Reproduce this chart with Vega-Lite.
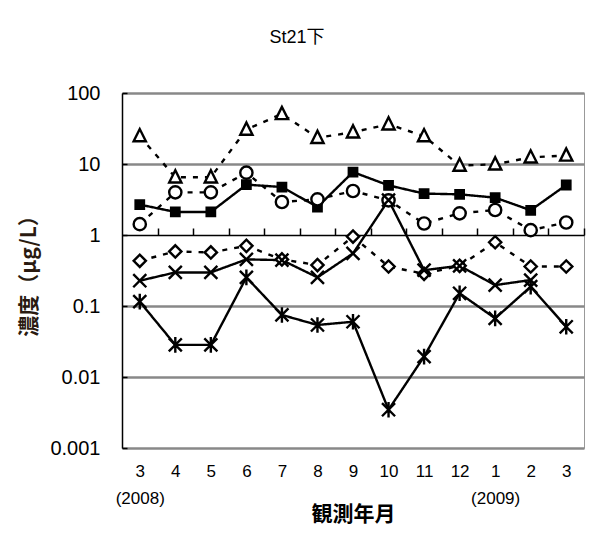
{
  "$schema": "https://vega.github.io/schema/vega-lite/v6.json",
  "width": 462,
  "height": 355,
  "autosize": {"type": "none"},
  "padding": {"left": 122, "top": 93, "right": 5, "bottom": 93},
  "title": {
    "text": "St21下",
    "anchor": "middle",
    "frame": "group",
    "dx": -56,
    "offset": 36,
    "fontSize": 18,
    "fontWeight": "normal",
    "font": "Liberation Sans, Noto Sans CJK JP",
    "color": "black"
  },
  "config": {
    "view": {"stroke": "#999", "strokeWidth": 1},
    "font": "Liberation Sans, Noto Sans CJK JP"
  },
  "data": {
    "values": [
      {"ym": "2008-03", "series": "系列1", "value": 24.7},
      {"ym": "2008-04", "series": "系列1", "value": 6.5},
      {"ym": "2008-05", "series": "系列1", "value": 6.5},
      {"ym": "2008-06", "series": "系列1", "value": 30.6},
      {"ym": "2008-07", "series": "系列1", "value": 50.8},
      {"ym": "2008-08", "series": "系列1", "value": 23.4},
      {"ym": "2008-09", "series": "系列1", "value": 28},
      {"ym": "2008-10", "series": "系列1", "value": 36.3},
      {"ym": "2008-11", "series": "系列1", "value": 24.7},
      {"ym": "2008-12", "series": "系列1", "value": 9.5},
      {"ym": "2009-01", "series": "系列1", "value": 9.9},
      {"ym": "2009-02", "series": "系列1", "value": 12.4},
      {"ym": "2009-03", "series": "系列1", "value": 13.2},

      {"ym": "2008-03", "series": "系列2", "value": 2.68},
      {"ym": "2008-04", "series": "系列2", "value": 2.11},
      {"ym": "2008-05", "series": "系列2", "value": 2.11},
      {"ym": "2008-06", "series": "系列2", "value": 5.12},
      {"ym": "2008-07", "series": "系列2", "value": 4.74},
      {"ym": "2008-08", "series": "系列2", "value": 2.48},
      {"ym": "2008-09", "series": "系列2", "value": 7.7},
      {"ym": "2008-10", "series": "系列2", "value": 5.0},
      {"ym": "2008-11", "series": "系列2", "value": 3.83},
      {"ym": "2008-12", "series": "系列2", "value": 3.74},
      {"ym": "2009-01", "series": "系列2", "value": 3.36},
      {"ym": "2009-02", "series": "系列2", "value": 2.23},
      {"ym": "2009-03", "series": "系列2", "value": 5.06},

      {"ym": "2008-03", "series": "系列3", "value": 1.42},
      {"ym": "2008-04", "series": "系列3", "value": 3.99},
      {"ym": "2008-05", "series": "系列3", "value": 3.99},
      {"ym": "2008-06", "series": "系列3", "value": 7.55},
      {"ym": "2008-07", "series": "系列3", "value": 2.92},
      {"ym": "2008-08", "series": "系列3", "value": 3.18},
      {"ym": "2008-09", "series": "系列3", "value": 4.17},
      {"ym": "2008-10", "series": "系列3", "value": 3.08},
      {"ym": "2008-11", "series": "系列3", "value": 1.45},
      {"ym": "2008-12", "series": "系列3", "value": 2.02},
      {"ym": "2009-01", "series": "系列3", "value": 2.25},
      {"ym": "2009-02", "series": "系列3", "value": 1.17},
      {"ym": "2009-03", "series": "系列3", "value": 1.5},

      {"ym": "2008-03", "series": "系列4", "value": 0.433},
      {"ym": "2008-04", "series": "系列4", "value": 0.587},
      {"ym": "2008-05", "series": "系列4", "value": 0.568},
      {"ym": "2008-06", "series": "系列4", "value": 0.703},
      {"ym": "2008-07", "series": "系列4", "value": 0.453},
      {"ym": "2008-08", "series": "系列4", "value": 0.377},
      {"ym": "2008-09", "series": "系列4", "value": 0.95},
      {"ym": "2008-10", "series": "系列4", "value": 0.36},
      {"ym": "2008-11", "series": "系列4", "value": 0.284},
      {"ym": "2008-12", "series": "系列4", "value": 0.368},
      {"ym": "2009-01", "series": "系列4", "value": 0.79},
      {"ym": "2009-02", "series": "系列4", "value": 0.36},
      {"ym": "2009-03", "series": "系列4", "value": 0.36},

      {"ym": "2008-03", "series": "系列5", "value": 0.227},
      {"ym": "2008-04", "series": "系列5", "value": 0.297},
      {"ym": "2008-05", "series": "系列5", "value": 0.297},
      {"ym": "2008-06", "series": "系列5", "value": 0.453},
      {"ym": "2008-07", "series": "系列5", "value": 0.443},
      {"ym": "2008-08", "series": "系列5", "value": 0.253},
      {"ym": "2008-09", "series": "系列5", "value": 0.55},
      {"ym": "2008-10", "series": "系列5", "value": 3.1},
      {"ym": "2008-11", "series": "系列5", "value": 0.32},
      {"ym": "2008-12", "series": "系列5", "value": 0.368},
      {"ym": "2009-01", "series": "系列5", "value": 0.197},
      {"ym": "2009-02", "series": "系列5", "value": 0.232},

      {"ym": "2008-03", "series": "系列6", "value": 0.115},
      {"ym": "2008-04", "series": "系列6", "value": 0.0283},
      {"ym": "2008-05", "series": "系列6", "value": 0.0283},
      {"ym": "2008-06", "series": "系列6", "value": 0.253},
      {"ym": "2008-07", "series": "系列6", "value": 0.0748},
      {"ym": "2008-08", "series": "系列6", "value": 0.054},
      {"ym": "2008-09", "series": "系列6", "value": 0.06},
      {"ym": "2008-10", "series": "系列6", "value": 0.00346},
      {"ym": "2008-11", "series": "系列6", "value": 0.0194},
      {"ym": "2008-12", "series": "系列6", "value": 0.151},
      {"ym": "2009-01", "series": "系列6", "value": 0.067},
      {"ym": "2009-02", "series": "系列6", "value": 0.187},
      {"ym": "2009-03", "series": "系列6", "value": 0.051}
    ]
  },
  "resolve": {"axis": {"x": "independent"}},
  "layer": [
    {
      "mark": {"type": "line", "color": "black", "strokeWidth": 2.4},
      "encoding": {
        "x": {
          "field": "ym",
          "type": "ordinal",
          "scale": {"type": "point", "padding": 0.5},
          "axis": {
            "orient": "bottom",
            "title": "観測年月",
            "titleFont": "Noto Sans CJK JP",
            "titleFontSize": 21,
            "titleFontWeight": "bold",
            "titleColor": "black",
            "titlePadding": -3,
            "domain": false,
            "ticks": false,
            "grid": false,
            "labelAngle": 0,
            "labelFontSize": 17,
            "labelColor": "black",
            "labelPadding": 15,
            "labelLineHeight": 27,
            "labelExpr": "datum.value == '2008-03' ? ['3', '(2008)'] : datum.value == '2009-01' ? ['1', '(2009)'] : '' + toNumber(substring(datum.value, 5))"
          }
        },
        "y": {
          "field": "value",
          "type": "quantitative",
          "scale": {"type": "log", "domain": [0.001, 100], "nice": false},
          "axis": {
            "title": "濃度（μg/L）",
            "titleFont": "Noto Sans CJK JP",
            "titleFontSize": 21,
            "titleFontWeight": "bold",
            "titleColor": "#2a1a10",
            "titlePadding": 10,
            "values": [0.001, 0.01, 0.1, 1, 10, 100],
            "format": "~g",
            "labelFontSize": 20,
            "labelColor": "black",
            "labelPadding": 27,
            "domainColor": "black",
            "domainWidth": 1.5,
            "tickColor": "black",
            "tickWidth": 1.5,
            "tickSize": -5,
            "grid": true,
            "gridWidth": 2.5,
            "gridColor": {"condition": {"test": "datum.value == 1", "value": "transparent"}, "value": "#888888"}
          }
        },
        "detail": {"field": "series"},
        "strokeDash": {
          "field": "series",
          "type": "nominal",
          "scale": {
            "domain": ["系列1", "系列2", "系列3", "系列4", "系列5", "系列6"],
            "range": [[5, 7], [1, 0], [5, 7], [5, 7], [1, 0], [1, 0]]
          },
          "legend": null
        }
      }
    },
    {
      "mark": {"type": "point", "filled": true, "stroke": "black", "strokeWidth": 2.4, "opacity": 1},
      "encoding": {
        "x": {
          "field": "ym",
          "type": "ordinal",
          "scale": {"type": "point", "padding": 0.5},
          "axis": {
            "orient": "top",
            "offset": -142,
            "title": null,
            "labels": false,
            "grid": false,
            "domain": true,
            "domainColor": "black",
            "domainWidth": 1.5,
            "ticks": true,
            "tickColor": "black",
            "tickWidth": 1.5,
            "tickSize": 7,
            "tickOffset": 17.77
          }
        },
        "y": {"field": "value", "type": "quantitative"},
        "shape": {
          "field": "series",
          "type": "nominal",
          "scale": {
            "domain": ["系列1", "系列2", "系列3", "系列4", "系列5", "系列6"],
            "range": [
              "M0,-1.15L-1,0.85L1,0.85Z",
              "square",
              "circle",
              "diamond",
              "M-1,-1L1,1M-1,1L1,-1",
              "M-1,-1L1,1M-1,1L1,-1M0,-1.2L0,1.2"
            ]
          },
          "legend": null
        },
        "fill": {
          "field": "series",
          "type": "nominal",
          "scale": {
            "domain": ["系列1", "系列2", "系列3", "系列4", "系列5", "系列6"],
            "range": ["white", "black", "white", "white", "white", "white"]
          },
          "legend": null
        },
        "size": {
          "field": "series",
          "type": "nominal",
          "scale": {
            "type": "ordinal",
            "domain": ["系列1", "系列2", "系列3", "系列4", "系列5", "系列6"],
            "range": [150, 70, 150, 150, 170, 170]
          },
          "legend": null
        }
      }
    }
  ]
}
